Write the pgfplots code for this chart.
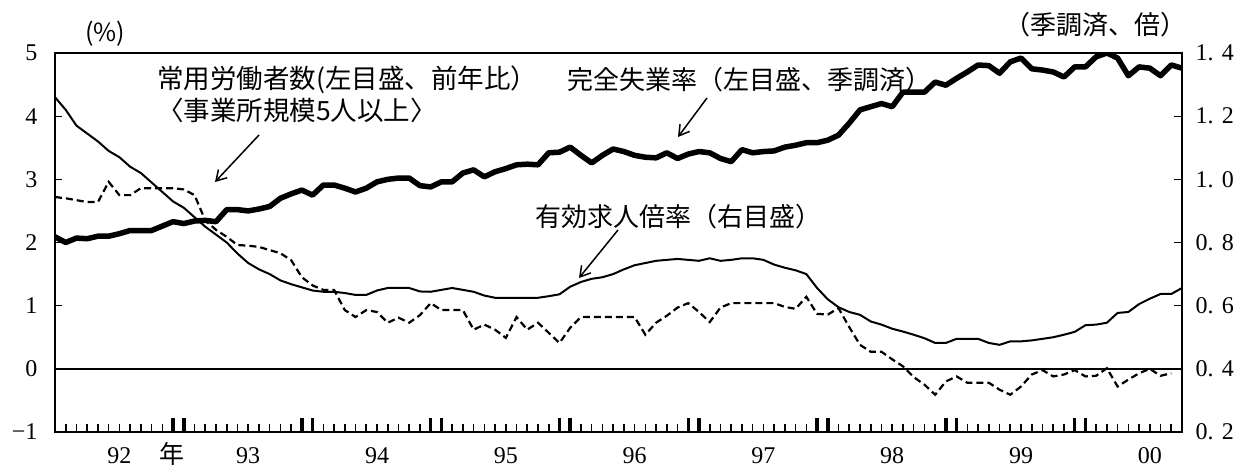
\documentclass[border=0pt]{standalone}
\usepackage{pgfplots}
\pgfplotsset{compat=1.18}
\usepackage{pgfplotstable}
\usepackage{fontspec}
\setmainfont{Liberation Serif}
\newfontfamily\cjk{Noto Sans CJK JP}
\usetikzlibrary{arrows.meta}

\pgfplotstableread{
x y
0 2.09
1 2.00
2 2.07
3 2.06
4 2.10
5 2.10
6 2.14
7 2.19
8 2.19
9 2.19
10 2.26
11 2.33
12 2.30
13 2.34
14 2.35
15 2.33
16 2.52
17 2.52
18 2.50
19 2.53
20 2.57
21 2.70
22 2.77
23 2.83
24 2.75
25 2.91
26 2.91
27 2.86
28 2.80
29 2.86
30 2.96
31 3.00
32 3.02
33 3.02
34 2.90
35 2.88
36 2.96
37 2.96
38 3.10
39 3.15
40 3.04
41 3.12
42 3.17
43 3.23
44 3.24
45 3.23
46 3.42
47 3.43
48 3.51
49 3.38
50 3.26
51 3.38
52 3.48
53 3.44
54 3.38
55 3.35
56 3.34
57 3.42
58 3.33
59 3.40
60 3.44
61 3.42
62 3.33
63 3.28
64 3.47
65 3.42
66 3.44
67 3.45
68 3.51
69 3.54
70 3.58
71 3.58
72 3.62
73 3.70
74 3.89
75 4.10
76 4.15
77 4.20
78 4.15
79 4.38
80 4.38
81 4.38
82 4.54
83 4.49
84 4.60
85 4.70
86 4.81
87 4.80
88 4.68
89 4.86
90 4.92
91 4.75
92 4.73
93 4.70
94 4.62
95 4.78
96 4.78
97 4.94
98 5.00
99 4.92
100 4.64
101 4.78
102 4.76
103 4.64
104 4.81
105 4.76
}\unemp

\pgfplotstableread{
x y
0 2.72
1 2.70
2 2.67
3 2.64
4 2.64
5 2.96
6 2.75
7 2.75
8 2.86
9 2.86
10 2.86
11 2.86
12 2.84
13 2.75
14 2.35
15 2.20
16 2.09
17 1.96
18 1.95
19 1.93
20 1.88
21 1.83
22 1.72
23 1.45
24 1.32
25 1.25
26 1.25
27 0.93
28 0.82
29 0.93
30 0.90
31 0.73
32 0.81
33 0.73
34 0.85
35 1.04
36 0.93
37 0.93
38 0.93
39 0.62
40 0.70
41 0.62
42 0.49
43 0.82
44 0.62
45 0.73
46 0.57
47 0.41
48 0.65
49 0.82
50 0.82
51 0.82
52 0.82
53 0.82
54 0.82
55 0.54
56 0.73
57 0.84
58 0.97
59 1.04
60 0.90
61 0.74
62 0.97
63 1.04
64 1.04
65 1.04
66 1.04
67 1.04
68 0.98
69 0.95
70 1.14
71 0.87
72 0.86
73 0.96
74 0.66
75 0.38
76 0.27
77 0.27
78 0.15
79 0.04
80 -0.13
81 -0.25
82 -0.41
83 -0.20
84 -0.12
85 -0.22
86 -0.22
87 -0.22
88 -0.33
89 -0.41
90 -0.28
91 -0.09
92 -0.02
93 -0.12
94 -0.09
95 -0.02
96 -0.12
97 -0.11
98 0.01
99 -0.28
100 -0.17
101 -0.07
102 0.00
103 -0.11
104 -0.07
}\employ

\pgfplotstableread{
x y
0 1.26
1 1.22
2 1.17
3 1.145
4 1.12
5 1.09
6 1.07
7 1.04
8 1.02
9 0.99
10 0.96
11 0.93
12 0.91
13 0.88
14 0.85
15 0.825
16 0.80
17 0.765
18 0.735
19 0.715
20 0.70
21 0.68
22 0.668
23 0.658
24 0.648
25 0.644
26 0.644
27 0.64
28 0.634
29 0.634
30 0.648
31 0.656
32 0.656
33 0.656
34 0.645
35 0.644
36 0.65
37 0.656
38 0.65
39 0.644
40 0.632
41 0.625
42 0.625
43 0.625
44 0.625
45 0.625
46 0.63
47 0.636
48 0.66
49 0.675
50 0.685
51 0.69
52 0.70
53 0.715
54 0.728
55 0.735
56 0.742
57 0.745
58 0.748
59 0.745
60 0.742
61 0.75
62 0.742
63 0.745
64 0.75
65 0.75
66 0.745
67 0.73
68 0.72
69 0.712
70 0.70
71 0.656
72 0.62
73 0.595
74 0.58
75 0.571
76 0.55
77 0.54
78 0.527
79 0.518
80 0.508
81 0.497
82 0.482
83 0.482
84 0.495
85 0.495
86 0.495
87 0.482
88 0.476
89 0.487
90 0.487
91 0.49
92 0.495
93 0.50
94 0.508
95 0.517
96 0.538
97 0.54
98 0.546
99 0.577
100 0.58
101 0.605
102 0.622
103 0.637
104 0.637
105 0.656
}\offers

\begin{document}
\begin{tikzpicture}
\begin{axis}[
  at={(55pt,37pt)}, anchor=south west,
  scale only axis, width=1127pt, height=379pt,
  xmin=0, xmax=105, ymin=-1, ymax=5,
  axis line style={line width=2.5pt},
  tick align=inside,
  xtick={6,18,30,42,54,66,78,90,102},
  xticklabels={92,93,94,95,96,97,98,99,00},
  xtick pos=bottom,
  xtick style={draw=none},
  xticklabel style={font=\fontsize{24}{26}\selectfont, yshift=-12pt},
  ytick={-1,0,1,2,3,4,5},
  yticklabels={−1,0,1,2,3,4,5},
  ytick pos=left,
  major tick length=7pt,
  ytick style={line width=1.2pt, black},
  yticklabel style={font=\fontsize{24}{26}\selectfont, xshift=-14pt},
]
\draw[line width=1.8pt] (axis cs:0,0) -- (axis cs:105,0);
\addplot[black, line width=2.2pt, dash pattern=on 7pt off 4pt] table[x=x,y=y] {\employ};
\addplot[black, line width=5.5pt, line join=round] table[x=x,y=y] {\unemp};
\end{axis}
\begin{axis}[
  at={(55pt,37pt)}, anchor=south west,
  scale only axis, width=1127pt, height=379pt,
  xmin=0, xmax=105, ymin=0.2, ymax=1.4,
  axis x line*=bottom, axis y line*=right,
  axis line style={line width=2.5pt},
  tick align=inside,
  xtick={11,12,23,24,35,36,47,48,59,60,71,72,83,84,95,96},
  xticklabels={},
  minor xtick={1,...,104},
  major tick length=14pt, minor tick length=8pt,
  major x tick style={line width=3.5pt, black},
  minor x tick style={line width=1.6pt, black},
  ytick={0.2,0.4,0.6,0.8,1.0,1.2,1.4},
  yticklabels={0.\hspace{0.35em}2,0.\hspace{0.35em}4,0.\hspace{0.35em}6,0.\hspace{0.35em}8,1.\hspace{0.35em}0,1.\hspace{0.35em}2,1.\hspace{0.35em}4},
  major y tick style={draw=none},
  minor ytick={0.2,0.4,0.6,0.8,1.0,1.2,1.4},
  minor y tick style={line width=1.2pt, black},
  yticklabel style={font=\fontsize{24}{26}\selectfont, xshift=10pt},
]
\addplot[black, line width=2pt, line join=round] table[x=x,y=y] {\offers};
\end{axis}
\begin{scope}[x=1pt, y=-1pt, yshift=469pt]
  \node[font=\cjk\fontsize{25}{27}\selectfont] at (105,34) {(\%)};
  \node[font=\cjk\fontsize{26}{28}\selectfont] at (1095,25) {（季調済、倍）};
  \node[anchor=west, inner sep=0pt, font=\cjk\fontsize{26.5}{28}\selectfont] at (157,80) {常用労働者数(左目盛、前年比）};
  \node[anchor=west, inner sep=0pt, font=\cjk\fontsize{26.5}{28}\selectfont] at (157,110) {〈事業所規模5人以上〉};
  \node[anchor=west, inner sep=0pt, font=\cjk\fontsize{26}{28}\selectfont] at (567,80) {完全失業率（左目盛、季調済）};
  \node[anchor=west, inner sep=0pt, font=\cjk\fontsize{26}{28}\selectfont] at (535,217) {有効求人倍率（右目盛）};
  \node[font=\cjk\fontsize{25}{27}\selectfont] at (172,454) {年};
  \draw[line width=1.5pt, -{Straight Barb[length=10pt,width=12pt]}] (259,135) -- (215,182);
  \draw[line width=1.5pt, -{Straight Barb[length=10pt,width=12pt]}] (707,98) -- (678,137);
  \draw[line width=1.5pt, -{Straight Barb[length=10pt,width=12pt]}] (618,230) -- (579,278);
\end{scope}
\pgfresetboundingbox
\path[use as bounding box] (0,0) rectangle (1246pt,469pt);
\end{tikzpicture}
\end{document}
